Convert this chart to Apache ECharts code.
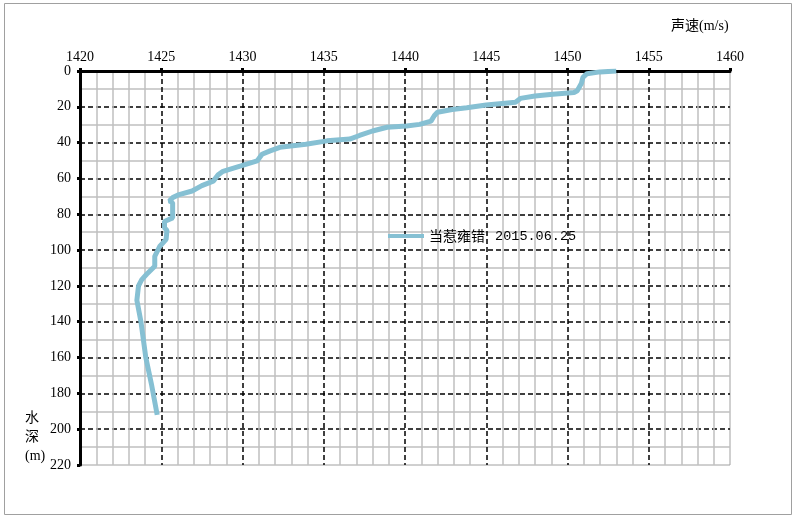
<!DOCTYPE html>
<html>
<head>
<meta charset="utf-8">
<script src="https://cdn.jsdelivr.net/npm/echarts@6/dist/echarts.min.js"></script>
<style>
  html, body { margin: 0; padding: 0; background: #fff; }
  #chart { width: 796px; height: 518px; }
</style>
</head>
<body>
<div id="chart"></div>
<script>
// depth (m) / sound speed (m/s)
const depths = [0, 0.5, 1.5, 3.5, 7, 11, 12, 13, 14, 15.3, 17.4, 19, 20.5, 21.5, 23, 25, 28, 29.8, 30.7, 31.4,
  33.5, 36, 38, 39, 40.9, 42.6, 44.6, 46.5, 50.2, 53, 56, 58, 61.5, 64, 67, 69, 70.7, 72.6, 73.5, 82,
  84, 87.5, 89, 94, 98, 103.5, 109, 113.5, 116.5, 120, 128, 140, 160, 175, 192]
const speeds = [1453.0, 1452.0, 1451.2, 1450.95, 1450.85, 1450.6, 1450.4, 1449.1, 1448.0, 1447.1, 1446.8, 1445.0,
  1443.8, 1442.9, 1442.0, 1441.8, 1441.6, 1440.9, 1440.1, 1438.9, 1438.0, 1437.2, 1436.6, 1435.2, 1433.9,
  1432.3, 1431.7, 1431.2, 1430.9, 1429.9, 1428.8, 1428.5, 1428.2, 1427.5, 1426.9, 1426.1, 1425.7, 1425.5,
  1425.7, 1425.7, 1425.2, 1425.2, 1425.35, 1425.3, 1424.9, 1424.6, 1424.6, 1424.1, 1423.8, 1423.6, 1423.5,
  1423.75, 1424.05, 1424.4, 1424.75]
const lakeName = '当惹雍错'
const surveyDate = '2015.06.25'
const seriesName = lakeName + ' ' + surveyDate
const speedRange = [1420, 1460]
const depthRange = [0, 220]

const font = '"Liberation Serif", "Noto Sans CJK SC", serif'
const chart = echarts.init(document.getElementById('chart'))

const options = {
  animation: false,
  backgroundColor: '#fff',
  textStyle: { fontFamily: font },
  grid: {
    left: 80,
    right: 66,
    top: 71,
    bottom: 53,
    show: true,
    borderColor: '#a0a0a0',
    borderWidth: 1,
    outerBoundsMode: 'none'
  },
  legend: {
    left: 383,
    top: 224,
    itemWidth: 36,
    itemHeight: 4,
    itemGap: 8,
    formatter: () => '{a|' + lakeName + '}{b| ' + surveyDate + '}',
    textStyle: {
      color: '#000',
      fontSize: 14,
      fontFamily: font,
      rich: {
        a: { fontSize: 14, fontFamily: '"Noto Sans CJK SC", sans-serif', color: '#000' },
        b: { fontSize: 13.5, fontFamily: '"Liberation Mono", monospace', color: '#000', padding: [0, 0, 0, 2] }
      }
    },
    data: [{ name: seriesName, icon: 'rect' }]
  },
  graphic: [
    {
      type: 'rect',
      shape: { x: 4.5, y: 3.5, width: 787, height: 511 },
      style: { fill: 'none', stroke: '#a0a0a0', lineWidth: 1 },
      silent: true
    },
    {
      type: 'text',
      left: 671,
      top: 19,
      style: { text: '声速(m/s)', fill: '#000', fontSize: 14, fontFamily: font }
    },
    {
      type: 'text',
      left: 25,
      top: 409,
      style: { text: '水\n深\n(m)', fill: '#000', fontSize: 14, lineHeight: 19, align: 'center', fontFamily: font }
    }
  ],
  xAxis: {
    type: 'value',
    position: 'top',
    min: speedRange[0],
    max: speedRange[1],
    interval: 5,
    axisLine: { show: true, lineStyle: { color: '#000', width: 3 } },
    axisTick: { show: true, length: 3, inside: false, lineStyle: { color: '#000', width: 3 } },
    axisLabel: { color: '#000', fontSize: 14, margin: 7, fontFamily: font, formatter: v => String(v) },
    splitLine: { show: true, showMaxLine: false, lineStyle: { color: '#000', type: [5, 3], width: 1.5 } },
    minorTick: { show: false, splitNumber: 5 },
    minorSplitLine: { show: true, lineStyle: { color: '#c0c0c0', width: 1.5 } }
  },
  yAxis: {
    type: 'value',
    inverse: true,
    min: depthRange[0],
    max: depthRange[1],
    interval: 20,
    axisLine: { show: true, lineStyle: { color: '#000', width: 3 } },
    axisTick: { show: true, length: 3, lineStyle: { color: '#000', width: 3 } },
    axisLabel: { color: '#000', fontSize: 14, margin: 9, fontFamily: font, formatter: v => String(v) },
    splitLine: { show: true, showMaxLine: false, lineStyle: { color: '#000', type: [5, 3], width: 1.5 } },
    minorTick: { show: false, splitNumber: 2 },
    minorSplitLine: { show: true, lineStyle: { color: '#c0c0c0', width: 1.5 } }
  },
  series: [
    {
      name: seriesName,
      type: 'line',
      symbol: 'none',
      smooth: false,
      lineStyle: { color: '#86c0d3', width: 5 },
      itemStyle: { color: '#86c0d3' },
      data: depths.map((d, i) => [speeds[i], d])
    }
  ]
}

chart.setOption(options)
</script>
</body>
</html>
